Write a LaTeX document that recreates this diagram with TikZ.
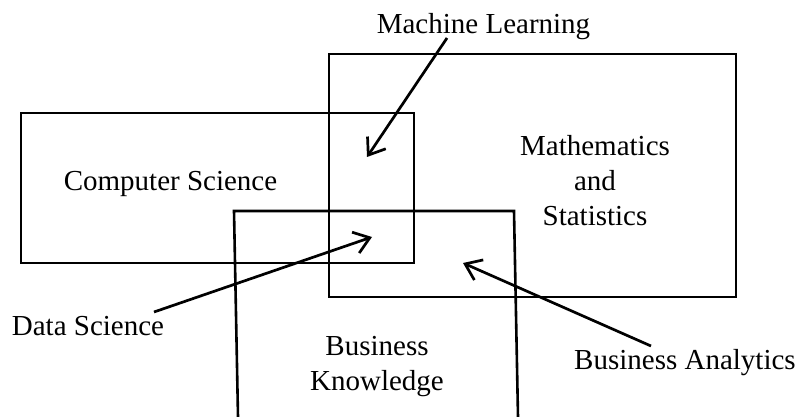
\documentclass[tikz,border=0pt]{standalone}
\usepackage{fontspec}
\setmainfont{Liberation Serif}
\usetikzlibrary{arrows.meta}
\begin{document}
\begin{tikzpicture}[x=1pt,y=-1pt,
  area/.style={draw=black,line width=2.6pt},
  lbl/.style={inner sep=0pt,anchor=base,align=center,font=\fontsize{29}{35}\selectfont},
  pointer/.style={draw=black,line width=2.7pt,-{Straight Barb[length=15pt,width=22pt,line width=2.7pt]}}]
  \useasboundingbox (0,0) rectangle (798,417);
  % subject areas
  \draw[area] (21,113) rectangle (414,263);
  \draw[area] (329,54) rectangle (736,297);
  \draw[area] (238,417) -- (234,211) -- (514,211) -- (518,417);
  % area names (base anchor sits on the last line)
  \node[lbl] (cs) at (170.5,190) {Computer Science};
  \node[lbl] (ms) at (595,225) {Mathematics\\and\\Statistics};
  \node[lbl] (bk) at (377,390) {Business\\Knowledge};
  % overlap names
  \node[lbl] (ml) at (483.5,34) {Machine Learning};
  \node[lbl] (ds) at (88,335) {Data Science};
  \node[lbl] (ba) at (685,369) {Business Analytics};
  % pointer ends
  \coordinate (mlS) at (447,38);
  \coordinate (mlT) at (367,157);
  \coordinate (dsS) at (154,312);
  \coordinate (dsT) at (372,237);
  \coordinate (baS) at (651,346);
  \coordinate (baT) at (463,263);
  \draw[pointer] (mlS) -- (mlT);
  \draw[pointer] (dsS) -- (dsT);
  \draw[pointer] (baS) -- (baT);
\end{tikzpicture}
\end{document}
